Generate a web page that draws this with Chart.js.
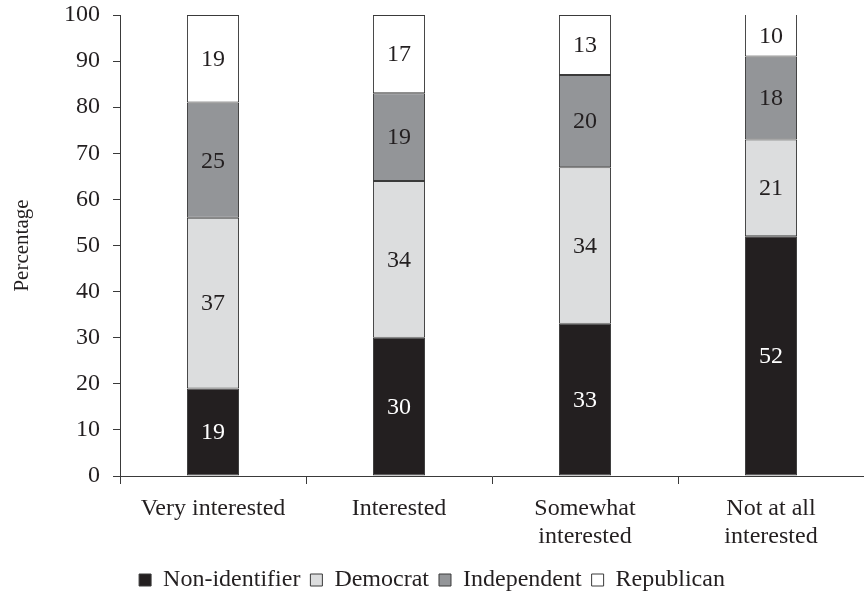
<!DOCTYPE html>
<html>
<head>
<meta charset="utf-8">
<script src="https://cdn.jsdelivr.net/npm/chart.js@4/dist/chart.umd.min.js"></script>
<style>
  html, body { margin: 0; padding: 0; background: #fff; }
  #wrap { width: 864px; height: 598px; }
</style>
</head>
<body>
<div id="wrap"><canvas id="c" width="864" height="598"></canvas></div>
<script>
// Party identification by level of interest (percent)
const categories = ['Very interested', 'Interested', ['Somewhat', 'interested'], ['Not at all', 'interested']];
const nonIdentifier = [19, 30, 33, 52];
const democrat = [37, 34, 34, 21];
const independent = [25, 19, 20, 18];
const republican = [19, 17, 13, 10];
const yTicks = [0, 10, 20, 30, 40, 50, 60, 70, 80, 90, 100];

const FONT = "'Liberation Serif', 'Times New Roman', serif";
const INK = '#231f20';
const EDGE = '#3a3a3a';

// Writes each segment's value in the middle of its visible part
const segmentLabels = {
  id: 'segmentLabels',
  afterDatasetsDraw(chart) {
    const ctx = chart.ctx;
    const area = chart.chartArea;
    ctx.save();
    ctx.font = '24px ' + FONT;
    ctx.textAlign = 'center';
    ctx.textBaseline = 'middle';
    chart.data.datasets.forEach((ds, di) => {
      const meta = chart.getDatasetMeta(di);
      meta.data.forEach((bar, i) => {
        const top = Math.max(bar.y, area.top);
        const bottom = Math.min(bar.base, area.bottom);
        ctx.fillStyle = di === 0 ? '#ffffff' : INK;
        ctx.fillText(String(ds.data[i]), bar.x, (top + bottom) / 2 + 1);
      });
    });
    ctx.restore();
  }
};

const seriesStyle = (label, data, color) => ({
  label, data,
  backgroundColor: color,
  borderColor: EDGE,
  borderWidth: 1,
  borderSkipped: false,
  barPercentage: 0.28,
  categoryPercentage: 1
});

new Chart(document.getElementById('c'), {
  type: 'bar',
  data: {
    labels: categories,
    datasets: [
      seriesStyle('Non-identifier', nonIdentifier, '#231f20'),
      seriesStyle('Democrat', democrat, '#dcddde'),
      seriesStyle('Independent', independent, '#939598'),
      seriesStyle('Republican', republican, '#ffffff')
    ]
  },
  options: {
    responsive: false,
    animation: false,
    devicePixelRatio: 1,
    layout: { padding: { top: 15, right: 0, left: 0, bottom: -4 } },
    plugins: {
      tooltip: { enabled: false },
      legend: {
        position: 'bottom',
        labels: {
          color: INK,
          font: { family: FONT, size: 24 },
          boxWidth: 12,
          boxHeight: 12,
          padding: 10
        }
      }
    },
    scales: {
      x: {
        stacked: true,
        offset: true,
        grid: {
          offset: true,
          drawOnChartArea: false,
          drawTicks: true,
          tickLength: 8,
          // no tick mark at the far right end of the axis
          color: (c) => (c.index >= categories.length ? 'rgba(0,0,0,0)' : EDGE)
        },
        border: { color: EDGE, width: 1 },
        ticks: {
          color: INK,
          font: { family: FONT, size: 24, lineHeight: 1.2 },
          padding: 10,
          maxRotation: 0,
          autoSkip: false
        },
        afterFit(scale) {
          scale.height = 82;
          scale.paddingLeft = 0;
          scale.paddingRight = 0;
        }
      },
      y: {
        stacked: true,
        min: 0,
        max: 100,
        afterBuildTicks(scale) { scale.ticks = yTicks.map(v => ({ value: v })); },
        grid: {
          drawOnChartArea: false,
          drawTicks: true,
          tickLength: 7,
          color: EDGE
        },
        border: { color: EDGE, width: 1 },
        ticks: {
          color: INK,
          font: { family: FONT, size: 24 },
          padding: 13
        },
        title: {
          display: true,
          text: 'Percentage',
          color: INK,
          font: { family: FONT, size: 21 },
          padding: { top: 10, bottom: 0 }
        },
        afterFit(scale) {
          scale.width = 120;
          scale.paddingTop = 0;
          scale.paddingBottom = 0;
        }
      }
    }
  },
  plugins: [segmentLabels]
});
</script>
</body>
</html>
